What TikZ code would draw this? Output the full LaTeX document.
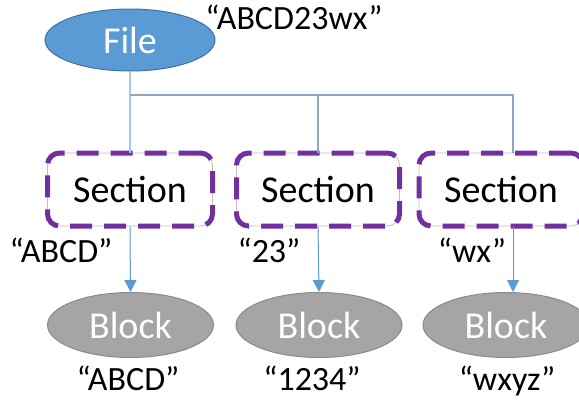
\documentclass[tikz,border=0pt]{standalone}
\usepackage{fontspec}
\setmainfont{Carlito}
\usetikzlibrary{shapes.geometric,arrows.meta,calc}
\definecolor{fileblue}{HTML}{5B9BD5}
\definecolor{fileedge}{HTML}{41719C}
\definecolor{blockgray}{HTML}{A5A5A5}
\definecolor{blockedge}{HTML}{8A8A8A}
\definecolor{secpurple}{HTML}{7030A0}
\definecolor{secedge}{HTML}{BFBFBF}
\definecolor{lightconn}{HTML}{A9C8E8}
\definecolor{grayconn}{HTML}{93A6BC}
\tikzset{
  bigtext/.style={font=\fontsize{38}{40}\selectfont},
  labtext/.style={font=\fontsize{34}{36}\selectfont, inner sep=0pt, anchor=base},
  filenode/.style={ellipse, draw=fileedge, line width=1pt, fill=fileblue, text=white,
    minimum width=170pt, minimum height=62pt, inner sep=0pt, bigtext},
  blocknode/.style={ellipse, draw=blockedge, line width=1pt, fill=blockgray, text=white,
    minimum width=166pt, minimum height=65pt, inner sep=0pt, bigtext},
  secnode/.style={rectangle, rounded corners=12pt, draw=secedge, line width=0.8pt, fill=white,
    minimum height=73pt, inner sep=0pt, bigtext,
    postaction={draw=secpurple, line width=5pt, dash pattern=on 22pt off 12pt, rounded corners=12pt}},
  conn1/.style={draw=lightconn, line width=1.5pt},
  conn2/.style={draw=grayconn, line width=1.5pt},
  arr/.style={draw=fileblue, line width=1pt, -{Triangle[length=12pt,width=12pt]}},
}
\begin{document}
\begin{tikzpicture}[x=1pt,y=-1pt]
\useasboundingbox (0,0) rectangle (579,402);
\node[filenode] (file) at (130,40) {File};
\node[secnode, minimum width=165pt] (sec1) at (130,189.5) {Section};
\node[secnode, minimum width=163pt] (sec2) at (318,189.5) {Section};
\node[secnode, minimum width=164pt] (sec3) at (501,189.5) {Section};
\node[blocknode] (blk1) at (130.5,325) {Block};
\node[blocknode] (blk2) at (319,325) {Block};
\node[blocknode] (blk3) at (506,325) {Block};
\coordinate (h1) at (130,95);
\coordinate (h3) at (513,95);
\draw[conn1] (file.south) -- (sec1.north);
\draw[conn2] (h1) -- (h3) -- (h3 |- sec3.north);
\draw[conn2] (h1 -| sec2.north) -- (sec2.north);
\draw[arr] (sec1.south) -- (blk1.north);
\draw[arr] (sec2.south) -- (blk2.north);
\draw[arr] (h3 |- sec3.south) -- (h3 |- blk3.north);
\node[labtext] (l0) at (294,29) {“ABCD23wx”};
\node[labtext] (l1) at (61,262) {“ABCD”};
\node[labtext] (l2) at (269,262) {“23”};
\node[labtext] (l3) at (472,262) {“wx”};
\node[labtext] (l4) at (128,390) {“ABCD”};
\node[labtext] (l5) at (312,390) {“1234”};
\node[labtext] (l6) at (507,390) {“wxyz”};
\end{tikzpicture}
\end{document}
